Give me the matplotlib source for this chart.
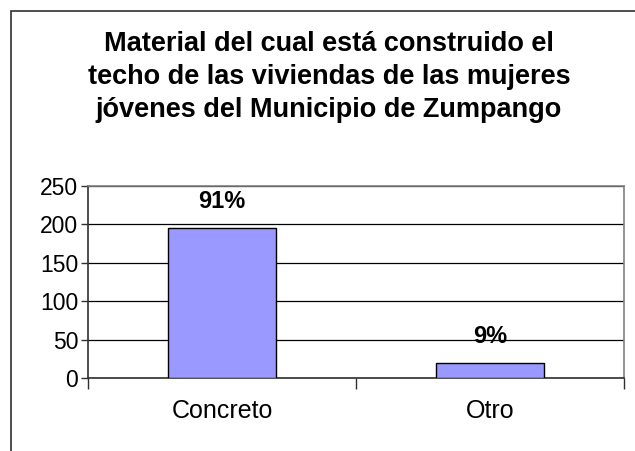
import matplotlib.pyplot as plt
from matplotlib.patches import Rectangle

plt.rcParams['font.family'] = ['Liberation Sans', 'DejaVu Sans']

# data
categories = ['Concreto', 'Otro']
counts = [195, 20]
pct_labels = ['91%', '9%']
y_ticks = [0, 50, 100, 150, 200, 250]

fig = plt.figure(figsize=(6.35, 4.51), dpi=100)

# outer chart frame (right and bottom edges fall outside the image)
fig.patches.append(Rectangle((11 / 635, -0.05), 1.0, 1.05 - 11 / 451,
                             transform=fig.transFigure, fill=False,
                             edgecolor='#303030', linewidth=1.2))

fig.text(0.518, 1 - 77 / 451,
         'Material del cual está construido el\n'
         'techo de las viviendas de las mujeres\n'
         'jóvenes del Municipio de Zumpango',
         ha='center', va='center', fontsize=19.5, fontweight='bold',
         linespacing=1.37)

ax = fig.add_axes([88 / 635, 73 / 451, 536 / 635, 192 / 451])
x = list(range(len(categories)))
ax.bar(x, counts, width=0.4, color='#9999ff', edgecolor='black',
       linewidth=1, zorder=3)

for xi, c, lab in zip(x, counts, pct_labels):
    ax.annotate(lab, (xi, c), xytext=(0, 19), textcoords='offset points',
                ha='center', va='center', fontsize=17, fontweight='bold',
                zorder=4)

ax.set_xlim(-0.5, 1.5)
ax.set_ylim(0, 250)
ax.set_yticks(y_ticks)
ax.yaxis.grid(True, color='black', linewidth=0.9, zorder=0)
ax.set_axisbelow(True)

ax.set_xticks([-0.5, 0.5, 1.5])
ax.set_xticklabels([])
ax.set_xticks(x, minor=True)
ax.set_xticklabels(categories, minor=True)
ax.tick_params(axis='x', which='major', length=8, width=1, color='#303030')
ax.tick_params(axis='x', which='minor', length=0, pad=15, labelsize=18)
ax.tick_params(axis='y', length=5, width=1, labelsize=16.5, pad=2,
               color='#303030')

ax.spines['top'].set_color('#808080')
ax.spines['right'].set_color('#808080')
ax.spines['left'].set_color('#303030')
ax.spines['bottom'].set_color('#303030')
for s in ax.spines.values():
    s.set_linewidth(1.2)

plt.savefig('out.png', dpi=100)
